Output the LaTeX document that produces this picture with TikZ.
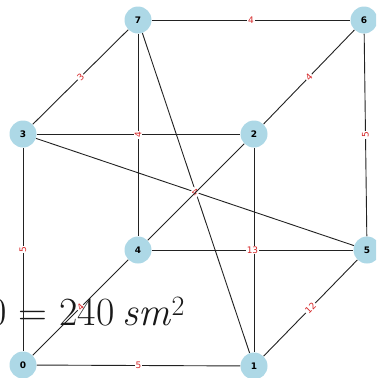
\documentclass[tikz,border=0pt]{standalone}
\usepackage{fontspec}
\setsansfont{DejaVu Sans}
\usetikzlibrary{positioning, backgrounds}
\definecolor{vtxblue}{HTML}{ADD8E6}
\definecolor{wred}{HTML}{D62728}
\definecolor{edgegray}{HTML}{222222}

\begin{document}
\begin{tikzpicture}[
        x=1pt, y=-1pt,
        vertex/.style={circle, fill=vtxblue, minimum size=27pt, inner sep=0pt,
                    font=\sffamily\bfseries\fontsize{9}{10}\selectfont},
        link/.style={draw=edgegray, line width=0.9pt},
        wlabel/.style={fill=white, inner sep=1pt, text=wred,
                    font=\sffamily\fontsize{9}{10}\selectfont}
      ]
        \clip (0,0) rectangle (376,378);

        \node[vertex] (n0) at (23,365) {0};
        \node[vertex] (n1) at (254,366) {1};
        \node[vertex] (n2) at (254,134) {2};
        \node[vertex] (n3) at (23,134) {3};
        \node[vertex] (n4) at (138,250) {4};
        \node[vertex] (n5) at (367,250) {5};
        \node[vertex] (n6) at (364,20) {6};
        \node[vertex] (n7) at (138,20) {7};

        % links go behind the vertices
        \begin{scope}[on background layer]
        \draw[link] (n7) -- (n1);
        \draw[link] (n2) -- (n1);
        \draw[link] (n3) -- (n2);
        \draw[link] (n3) -- node[wlabel, sloped] {4} (n5);
        \draw[link] (n7) -- node[wlabel, rotate=90] {4} (n4);
        \draw[link] (n7) -- node[wlabel] {4} (n6);
        \draw[link] (n7) -- node[wlabel, sloped] {3} (n3);
        \draw[link] (n6) -- node[wlabel, sloped] {4} (n2);
        \draw[link] (n6) -- node[wlabel, rotate=90] {5} (n5);
        \draw[link] (n2) -- (n4);
        \draw[link] (n4) -- node[wlabel, sloped] {4} (n0);
        \draw[link] (n3) -- node[wlabel, rotate=90] {5} (n0);
        \draw[link] (n0) -- node[wlabel] {5} (n1);
        \draw[link] (n4) -- node[wlabel] {13} (n5);
        \draw[link] (n5) -- node[wlabel, sloped] {12} (n1);
        \end{scope}

        \node[anchor=base west, inner sep=0pt, text=black!90,
              font=\fontsize{40}{44}\selectfont] (area) at (-12,325)
              {0 = 240\hspace{8pt}\textit{sm}\textsuperscript{2}};
      \end{tikzpicture}
\end{document}
